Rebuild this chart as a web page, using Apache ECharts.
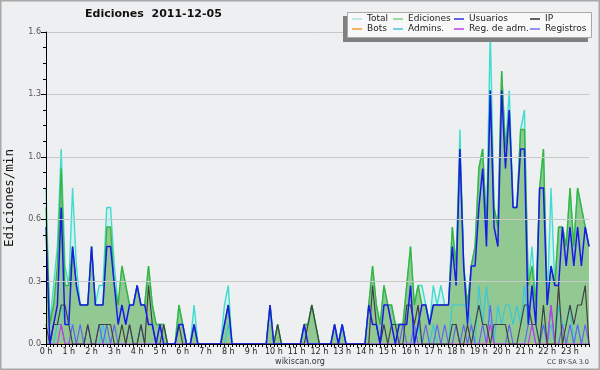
<!DOCTYPE html>
<html><head><meta charset="utf-8">
<script src="https://cdn.jsdelivr.net/npm/echarts@6/dist/echarts.min.js"></script>
<style>html,body{margin:0;padding:0;background:#eeeff1}#c{width:600px;height:370px}</style>
</head><body><div id="c"></div>
<script>
const hourLabels = ['0 h','1 h','2 h','3 h','4 h','5 h','6 h','7 h','8 h','9 h','10 h','11 h','12 h','13 h','14 h','15 h','16 h','17 h','18 h','19 h','20 h','21 h','22 h','23 h'];
const yTicks = [0, 0.32, 0.64, 0.96, 1.28, 1.6];

// 10-minute buckets (6 per hour), edits per minute
const total = [
 .8,.1,.3,.5,1.0,.4,  .3,.8,.4,.2,.2,.2,  .5,.2,.3,.3,.7,.7,  .4,.2,.4,.3,.2,.2,
 .3,.2,.2,.4,.2,.1,  .1,.1,0,0,0,.2,  .1,0,0,.2,0,0,  0,0,0,0,0,.2,
 .3,0,0,0,0,0,  0,0,0,0,0,.2,  0,.1,0,0,0,0,  0,0,.1,.1,.2,.1,
 0,0,0,0,.1,0,  .1,0,0,0,0,0,  0,.2,.4,.2,.1,.3,  .2,.2,.1,.1,.1,.3,
 .5,.2,.3,.3,.2,.1,  .3,.2,.3,.2,.2,.6,  .4,1.1,.4,.2,.4,.5,  .9,1.0,.6,1.6,.7,.6,
 1.4,1.0,1.3,.7,.7,1.1,  1.2,.3,.5,.2,.8,1.0,  .2,.8,.3,.6,.6,.5,  .8,.5,.8,.7,.6,.5
];
const ediciones = [
 .7,.1,.2,.4,.9,.3,  .3,.5,.3,.2,.2,.2,  .5,.2,.2,.2,.6,.6,  .3,.2,.4,.3,.2,.2,
 .3,.2,.2,.4,.2,.1,  .1,.1,0,0,0,.2,  .1,0,0,.1,0,0,  0,0,0,0,0,.1,
 .2,0,0,0,0,0,  0,0,0,0,0,.2,  0,.1,0,0,0,0,  0,0,.1,.1,.2,.1,
 0,0,0,0,.1,0,  .1,0,0,0,0,0,  0,.2,.4,.2,.1,.3,  .2,.2,.1,.1,.1,.3,
 .5,.2,.3,.2,.2,.1,  .2,.2,.2,.2,.2,.6,  .4,1.0,.4,.2,.4,.5,  .9,1.0,.6,1.3,.7,.6,
 1.4,1.0,1.2,.7,.7,1.1,  1.1,.3,.4,.2,.8,1.0,  .2,.4,.3,.6,.6,.5,  .8,.5,.8,.7,.6,.5
];
const usuarios = [
 .6,0,.1,.2,.7,.1,  .1,.5,.3,.2,.2,.2,  .5,.2,.2,.2,.5,.5,  .3,.1,.2,.1,.2,.2,
 .3,.2,.2,.1,.1,0,  .1,0,0,0,0,.1,  .1,0,0,.1,0,0,  0,0,0,0,0,.1,
 .2,0,0,0,0,0,  0,0,0,0,0,.2,  0,0,0,0,0,0,  0,0,.1,0,0,0,
 0,0,0,0,.1,0,  .1,0,0,0,0,0,  0,.2,.1,.1,0,.2,  .2,.1,0,.1,.1,.1,
 .3,0,.1,.2,.2,.1,  .2,.2,.2,.2,.2,.5,  .3,1.0,.4,.1,.4,.4,  .7,.9,.5,1.3,.6,.5,
 1.3,.9,1.2,.7,.7,1.0,  1.0,.1,.3,.1,.8,.8,  .2,.4,.3,.3,.6,.4,  .6,.4,.6,.4,.6,.5
];
const ip = [
 .1,0,.1,.1,.2,.2,  .1,0,0,0,0,.1,  0,0,.1,.1,.1,.1,  0,0,.1,0,.1,0,
 0,.1,0,.3,.1,0,  0,.1,0,0,0,.1,  0,0,0,0,0,0,  0,0,0,0,0,0,
 0,0,0,0,0,0,  0,0,0,0,0,0,  0,.1,0,0,0,0,  0,0,0,.1,.2,.1,
 0,0,0,0,0,0,  0,0,0,0,0,0,  0,0,.3,.1,0,.1,  0,.1,.1,0,0,.2,
 .2,.1,.2,0,0,0,  0,0,0,0,0,.1,  .1,0,0,.1,0,.1,  .2,.1,.1,0,.1,.1,
 .1,.1,0,0,0,.1,  .2,.2,.1,.1,0,.2,  0,0,0,.3,0,.1,  .2,.1,.2,.2,.3,0
];
const bots = [
 0,0,0,0,0,0,  0,0,0,0,0,0,  0,0,0,0,0,0,  0,0,0,0,0,0,
 0,0,0,0,0,0,  0,0,0,0,0,0,  0,0,0,0,0,0,  0,0,0,0,0,0,
 0,0,0,0,0,0,  0,0,0,0,0,0,  0,0,0,0,0,0,  0,0,0,0,0,0,
 0,0,0,0,0,0,  0,0,0,0,0,0,  0,0,0,0,0,0,  0,0,0,0,0,0,
 0,0,0,0,0,0,  0,0,0,0,0,0,  0,0,0,0,0,0,  0,0,0,0,0,0,
 0,0,0,0,0,0,  0,0,0,0,0,0,  0,0,0,0,0,0,  0,0,0,0,0,0
];
const admins = [
 0,0,0,.1,.2,.1,  .1,.1,0,0,0,0,  0,0,0,.1,0,0,  0,0,0,0,0,0,
 0,0,0,0,0,0,  0,0,0,0,0,0,  0,0,0,0,0,0,  0,0,0,0,0,0,
 .1,0,0,0,0,0,  0,0,0,0,0,0,  0,0,0,0,0,0,  0,0,0,0,0,0,
 0,0,0,0,0,0,  .1,0,0,0,0,0,  0,0,0,0,0,0,  0,0,0,0,0,0,
 0,0,.1,0,0,0,  .1,0,0,0,0,.2,  .2,.2,.2,.2,.1,0,  .3,.1,.3,.1,0,.2,
 .1,.2,.2,.1,.2,.1,  .3,.1,.3,.1,0,.1,  0,.1,0,.2,.1,.1,  .2,0,.1,0,0,0
];
const registros = [
 0,0,.1,.1,.1,0,  0,.1,0,.1,0,.1,  0,0,.1,0,.1,0,  .1,0,0,0,.1,0,
 0,.1,0,0,0,0,  0,0,0,0,0,0,  0,0,0,0,0,0,  0,0,0,0,0,0,
 0,0,0,0,0,0,  0,0,0,0,0,0,  0,0,0,0,0,0,  0,0,0,0,0,0,
 0,0,0,0,0,0,  0,0,0,0,0,0,  0,0,0,0,0,0,  0,0,0,0,.1,0,
 0,.1,0,0,.1,0,  0,.1,0,.1,0,0,  .1,0,.1,0,.1,0,  0,.1,0,.2,0,0,
 0,0,.1,0,0,0,  0,.1,.1,0,0,.1,  0,.2,0,0,.1,0,  .1,0,.1,0,.1,0
];
const regAdm = [
 0,0,0,0,.1,0,  0,0,0,0,0,0,  0,0,0,0,0,0,  0,0,0,0,0,0,
 0,0,0,0,0,0,  0,0,0,0,0,0,  0,0,0,0,0,0,  0,0,0,0,0,0,
 0,0,0,0,0,0,  0,0,0,0,0,0,  0,0,0,0,0,0,  0,0,0,0,0,0,
 0,0,0,0,0,0,  0,0,0,0,0,0,  0,0,0,0,0,0,  0,0,0,0,0,0,
 0,0,0,0,0,0,  0,0,0,0,0,0,  0,0,0,0,0,0,  0,0,0,.1,0,0,
 0,0,0,0,0,0,  0,0,.1,0,0,0,  0,.2,0,0,0,0,  0,0,0,0,0,0
];

const cats = total.map((_, i) => i);
const F = 'DejaVu Sans';

function ln(name, data, color, width, z, extra) {
  return Object.assign({
    name, type: 'line', data, symbol: 'none', z,
    lineStyle: { color, width }, itemStyle: { color },
    emphasis: { disabled: true }
  }, extra || {});
}

const legendCommon = {
  orient: 'vertical', itemWidth: 10, itemHeight: 1.5, icon: 'rect', itemGap: 0,
  padding: 0, selectedMode: false, z: 110,
  textStyle: { fontFamily: F, fontSize: 9, color: '#222', lineHeight: 10 }
};
function leg(left, items) {
  return Object.assign({}, legendCommon, {
    left, top: 14,
    data: items.map(([n, c]) => ({ name: n, itemStyle: { color: c, borderWidth: 0 } }))
  });
}

const chart = echarts.init(document.getElementById('c'));
chart.setOption({
  backgroundColor: '#eeeff1',
  animation: false,
  title: { text: 'Ediciones  2011-12-05', left: 85, top: 9, padding: 0,
    textStyle: { fontFamily: F, fontSize: 11, fontWeight: 'bold', color: '#111' } },
  grid: { left: 46, right: 11, top: 32, bottom: 26 },
  legend: [
    leg(352, [['Total', '#a8e6e4'], ['Bots', '#f0a030']]),
    leg(393, [['Ediciones', '#80d080'], ['Admins.', '#40c8d8']]),
    leg(454, [['Usuarios', '#3030e0'], ['Reg. de adm.', '#c040e0']]),
    leg(530, [['IP', '#303030'], ['Registros', '#7070f0']])
  ],
  xAxis: {
    type: 'category', data: cats, boundaryGap: false, z: 10,
    axisLine: { lineStyle: { color: '#000', width: 1 } },
    axisTick: { interval: 0, length: 3, lineStyle: { color: '#000' } },
    axisLabel: { interval: 5, formatter: (v, i) => hourLabels[Math.round(i / 6)],
      fontFamily: F, fontSize: 8, color: '#222', margin: 4 },
    splitLine: { show: false }
  },
  yAxis: {
    type: 'value', min: yTicks[0], max: yTicks[yTicks.length - 1], interval: 0.32, z: 10,
    axisLine: { show: true, lineStyle: { color: '#000' } },
    axisTick: { show: true, length: 5, lineStyle: { color: '#000' } },
    minorTick: { show: true, splitNumber: 4, length: 3, lineStyle: { color: '#000' } },
    axisLabel: { formatter: v => v.toFixed(1), fontFamily: F, fontSize: 8, color: '#555', margin: 5 },
    splitLine: { lineStyle: { color: '#c8c8c8', width: 1 } }
  },
  series: [
    ln('Total', total, '#40dcd0', 1.4, 2, { areaStyle: { color: '#d2f0ee', opacity: 1 }, itemStyle: { color: '#a8e6e4' } }),
    ln('Ediciones', ediciones, '#3cb43c', 1.4, 2, { areaStyle: { color: '#92c992', opacity: 1 }, itemStyle: { color: '#80d080' } }),
    ln('Bots', bots, '#f0a030', 1, 2),
    ln('Admins.', admins, '#38c8d8', 1.2, 3),
    ln('Registros', registros, '#6464f0', 1.2, 3),
    ln('Reg. de adm.', regAdm, '#c040e0', 1.2, 3),
    ln('IP', ip, '#404040', 1.2, 4),
    ln('Usuarios', usuarios, '#1a1ae8', 1.5, 5)
  ],
  graphic: [
    { type: 'rect', z: 100, shape: { x: 0.75, y: 0.75, width: 598.5, height: 368.5 },
      style: { fill: 'none', stroke: '#a8a8a8', lineWidth: 1.5 } },
    { type: 'rect', z: 100, shape: { x: 343, y: 16, width: 245, height: 26 }, style: { fill: '#808080' } },
    { type: 'rect', z: 101, shape: { x: 347.5, y: 12.5, width: 244, height: 25 },
      style: { fill: '#f8f8f8', stroke: '#a8a8a8', lineWidth: 1 } },
    { type: 'text', z: 100, x: 10, y: 198, rotation: Math.PI / 2,
      style: { text: 'Ediciones/min', font: '12.5px "DejaVu Sans Mono"', fill: '#111', align: 'center', verticalAlign: 'middle' } },
    { type: 'text', z: 100, x: 300, y: 361.5,
      style: { text: 'wikiscan.org', font: '8px "DejaVu Sans"', fill: '#333', align: 'center', verticalAlign: 'middle' } },
    { type: 'text', z: 100, x: 589, y: 362,
      style: { text: 'CC BY-SA 3.0', font: '6.5px "DejaVu Sans"', fill: '#444', align: 'right', verticalAlign: 'middle' } }
  ]
});
</script></body></html>
